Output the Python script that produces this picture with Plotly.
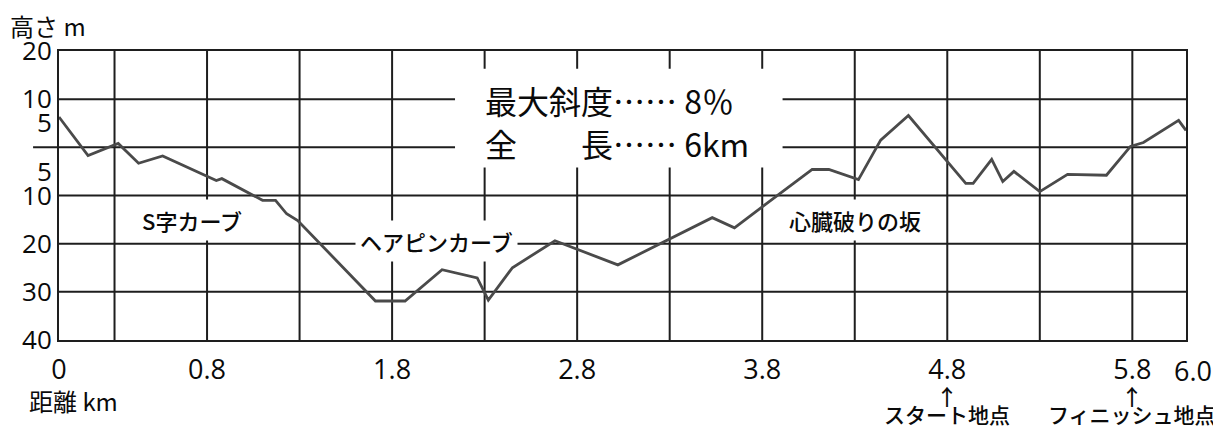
import plotly.graph_objects as go

# ---- data ----
dist_km = [0.0, 0.157, 0.32, 0.43, 0.56, 0.85, 0.88, 1.10, 1.17, 1.23, 1.29, 1.71, 1.87,
           2.07, 2.26, 2.32, 2.45, 2.68, 3.02, 3.53, 3.65, 4.07, 4.16, 4.32, 4.44, 4.59,
           4.90, 4.94, 5.04, 5.10, 5.16, 5.30, 5.45, 5.66, 5.79, 5.86, 6.05, 6.09]
height_m = [6.3, -1.7, 0.8, -3.3, -1.8, -6.9, -6.5, -11.0, -11.0, -13.8, -15.2, -31.9, -31.9,
            -25.4, -27.1, -31.7, -25.0, -19.4, -24.4, -14.6, -16.7, -4.6, -4.6, -6.7, 1.5, 6.6,
            -7.5, -7.5, -2.5, -7.1, -5.0, -9.2, -5.6, -5.8, 0.2, 1.0, 5.6, 3.5]

x_tick_vals = [0, 0.8, 1.8, 2.8, 3.8, 4.8, 5.8]
x_tick_text = ["0", "0.8", "1.8", "2.8", "3.8", "4.8", "5.8"]
x_end_label = "6.0"
y_tick_vals = [20, 10, 5, -5, -10, -20, -30, -40]
y_tick_text = ["20", "10", "5", "5", "10", "20", "30", "40"]

h_grid = [10, 0, -10, -20, -30]
v_grid = [0.3, 0.8, 1.3, 1.8, 2.3, 2.8, 3.3, 3.8, 4.3, 4.8, 5.3, 5.8]

x_range = [0, 6.09]
y_range = [-40, 20]

section_labels = ["S字カーブ", "ヘアピンカーブ", "心臓破りの坂"]
section_x = [0.72, 2.04, 4.30]
section_y = [-15.0, -19.5, -15.0]

info_lines = ["最大斜度…… 8％", "全　　長…… 6km"]
info_x = 2.29
info_y = [9.8, 0.8]
info_box_x = [2.14, 3.91]
info_box_y = [-4.2, 16.3]

marks = ["スタート地点", "フィニッシュ地点"]
marks_x = [4.8, 5.8]

JP = "Noto Sans CJK JP"
NUM = "Open Sans"
GRID = "#1e1e1e"
TXT = "#0a0a0a"

fig = go.Figure()
fig.add_trace(go.Scatter(x=dist_km, y=height_m, mode="lines",
                         line=dict(color="#4a4a4a", width=2.8),
                         hoverinfo="skip", showlegend=False))

shapes = []
for h in h_grid:
    shapes.append(dict(type="line", xref="paper", yref="y",
                       x0=-0.023 if h == 0 else 0, x1=1, y0=h, y1=h,
                       line=dict(color=GRID, width=2), layer="below"))
for v in v_grid:
    shapes.append(dict(type="line", xref="x", yref="paper",
                       x0=v, x1=v, y0=0, y1=1,
                       line=dict(color=GRID, width=2), layer="below"))
shapes.append(dict(type="rect", xref="x", yref="y",
                   x0=info_box_x[0], x1=info_box_x[1], y0=info_box_y[0], y1=info_box_y[1],
                   fillcolor="white", line=dict(width=0), layer="below"))

annotations = []
for t, x, y in zip(section_labels, section_x, section_y):
    annotations.append(dict(text=t, x=x, y=y, xref="x", yref="y", showarrow=False,
                            font=dict(family=JP, size=22, color=TXT, weight=500),
                            bgcolor="white", borderpad=4))
for t, y in zip(info_lines, info_y):
    annotations.append(dict(text=t, x=info_x, y=y, xref="x", yref="y", showarrow=False,
                            xanchor="left", font=dict(family=JP, size=32, color=TXT)))
for t, x in zip(marks, marks_x):
    annotations.append(dict(text="↑", x=x, y=-0.19, xref="x", yref="paper", showarrow=False,
                            xanchor="center", yanchor="middle",
                            font=dict(family=JP, size=22, color=TXT, weight=500)))
    annotations.append(dict(text=t, x=x, y=-0.257, xref="x", yref="paper", showarrow=False,
                            xanchor="center", yanchor="middle",
                            font=dict(family=JP, size=21, color=TXT, weight=500)))
annotations.append(dict(text=x_end_label, x=1.006, y=-0.104, xref="paper", yref="paper",
                        showarrow=False, xanchor="center", yanchor="middle",
                        font=dict(family=NUM, size=27, color=TXT)))
annotations.append(dict(text="高さ m", x=-0.045, y=1.087, xref="paper", yref="paper",
                        xanchor="left", yanchor="middle", showarrow=False,
                        font=dict(family=JP, size=24, color=TXT)))
annotations.append(dict(text="距離 km", x=-0.028, y=-0.208, xref="paper", yref="paper",
                        xanchor="left", yanchor="middle", showarrow=False,
                        font=dict(family=JP, size=24, color=TXT)))

fig.update_layout(
    width=1213, height=431,
    margin=dict(l=51, r=35, t=43, b=99),
    paper_bgcolor="white", plot_bgcolor="white",
    shapes=shapes, annotations=annotations,
    xaxis=dict(range=x_range, tickvals=x_tick_vals, ticktext=x_tick_text,
               showgrid=False, zeroline=False, showline=True, mirror=True,
               linecolor=GRID, linewidth=2, ticks="", ticklabelstandoff=5,
               tickfont=dict(family=NUM, size=27, color=TXT)),
    yaxis=dict(range=y_range, tickvals=y_tick_vals, ticktext=y_tick_text,
               showgrid=False, zeroline=False, showline=True, mirror=True,
               linecolor=GRID, linewidth=2, ticks="", ticklabelstandoff=0,
               tickfont=dict(family=NUM, size=26, color=TXT)),
)

fig.write_html("out.html")
